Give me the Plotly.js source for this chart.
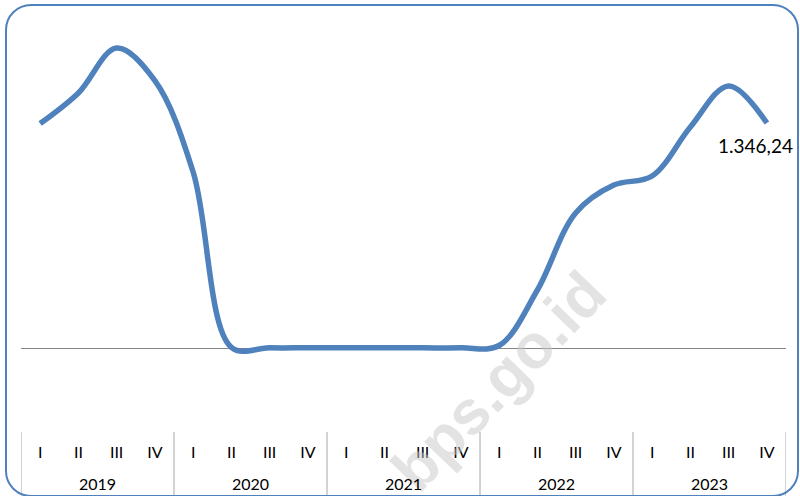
<!DOCTYPE html>
<html>
<head>
<meta charset="utf-8">
<script src="https://cdn.plot.ly/plotly-3.0.1.min.js"></script>
<style>
html,body{margin:0;padding:0;background:#fff;}
#wrap{position:relative;width:800px;height:496px;overflow:hidden;}
#chart{position:absolute;left:0;top:0;width:800px;height:496px;}
#frame{position:absolute;left:5px;top:4px;width:790px;height:489px;border:2px solid #4F81BD;border-radius:26px;pointer-events:none;}
</style>
</head>
<body>
<div id="wrap"><div id="chart"></div><div id="frame"></div></div>
<script>
// ---- data ----
var years = ['2019', '2020', '2021', '2022', '2023'];
var quarters = ['I', 'II', 'III', 'IV'];
var values = [1343, 1526, 1795, 1600,
              1053, 4, 1, 1,
              1, 1, 1, 1,
              15, 347, 808, 975,
              1029, 1322, 1568, 1346.24];
var watermark = 'bps.go.id';

// build category positions / labels from the arrays
var xIdx = [], qText = [];
years.forEach(function (y) {
  quarters.forEach(function (q) { xIdx.push(xIdx.length); qText.push(q); });
});
var nQ = quarters.length;

function fmtID(v) {
  var parts = v.toFixed(2).split('.');
  var intPart = parts[0].replace(/\B(?=(\d{3})+(?!\d))/g, '.');
  return intPart + ',' + parts[1];
}

var last = values.length - 1;
var blue = '#4F81BD';
var font = 'Lato, "Open Sans", sans-serif';

var trace = {
  type: 'scatter',
  mode: 'lines',
  x: xIdx,
  y: values,
  line: {color: blue, width: 5.5, shape: 'spline', smoothing: 1},
  hoverinfo: 'skip',
  cliponaxis: false
};

var annotations = [
  {
    xref: 'paper', yref: 'paper', x: 0.625, y: 0.12,
    xanchor: 'center', yanchor: 'middle',
    text: '<b>' + watermark + '</b>', showarrow: false, textangle: -46,
    font: {family: 'Liberation Sans, Arial, sans-serif', size: 62, color: 'rgba(200,200,200,0.5)'}
  },
  {
    x: xIdx[last], y: values[last],
    text: fmtID(values[last]), showarrow: false,
    xanchor: 'center', yanchor: 'middle',
    xshift: -11, yshift: -22,
    font: {family: font, size: 19, color: '#000'}
  }
];
var shapes = [];
years.forEach(function (y, i) {
  annotations.push({
    xref: 'x', yref: 'paper', x: i * nQ + (nQ - 1) / 2, y: -0.1317,
    xanchor: 'center', yanchor: 'middle', showarrow: false,
    text: y, font: {family: font, size: 16, color: '#000'}
  });
  shapes.push({
    type: 'line', xref: 'x', yref: 'paper',
    x0: i * nQ - 0.5, x1: i * nQ - 0.5, y0: -0.005, y1: -0.2,
    line: {color: '#A6A6A6', width: 1}
  });
});
shapes.push({
  type: 'line', xref: 'x', yref: 'paper',
  x0: years.length * nQ - 0.5, x1: years.length * nQ - 0.5, y0: -0.005, y1: -0.2,
  line: {color: '#A6A6A6', width: 1}
});

var layout = {
  width: 800, height: 496,
  margin: {l: 21, r: 14, t: 20, b: 66},
  paper_bgcolor: '#ffffff',
  plot_bgcolor: 'rgba(0,0,0,0)',
  showlegend: false,
  font: {family: font, color: '#000'},
  xaxis: {
    range: [-0.5, xIdx.length - 0.5],
    tickmode: 'array',
    tickvals: xIdx,
    ticktext: qText,
    showgrid: false,
    showline: false,
    zeroline: false,
    ticks: 'outside',
    ticklen: 8,
    tickcolor: 'rgba(0,0,0,0)',
    tickfont: {size: 16, family: font, color: '#000'}
  },
  yaxis: {
    range: [-490.6, 1962.5],
    showgrid: false,
    showticklabels: false,
    showline: false,
    ticks: '',
    zeroline: true,
    zerolinecolor: '#868686',
    zerolinewidth: 1
  },
  annotations: annotations,
  shapes: shapes
};

Plotly.newPlot('chart', [trace], layout, {staticPlot: true, displayModeBar: false});
</script>
</body>
</html>
